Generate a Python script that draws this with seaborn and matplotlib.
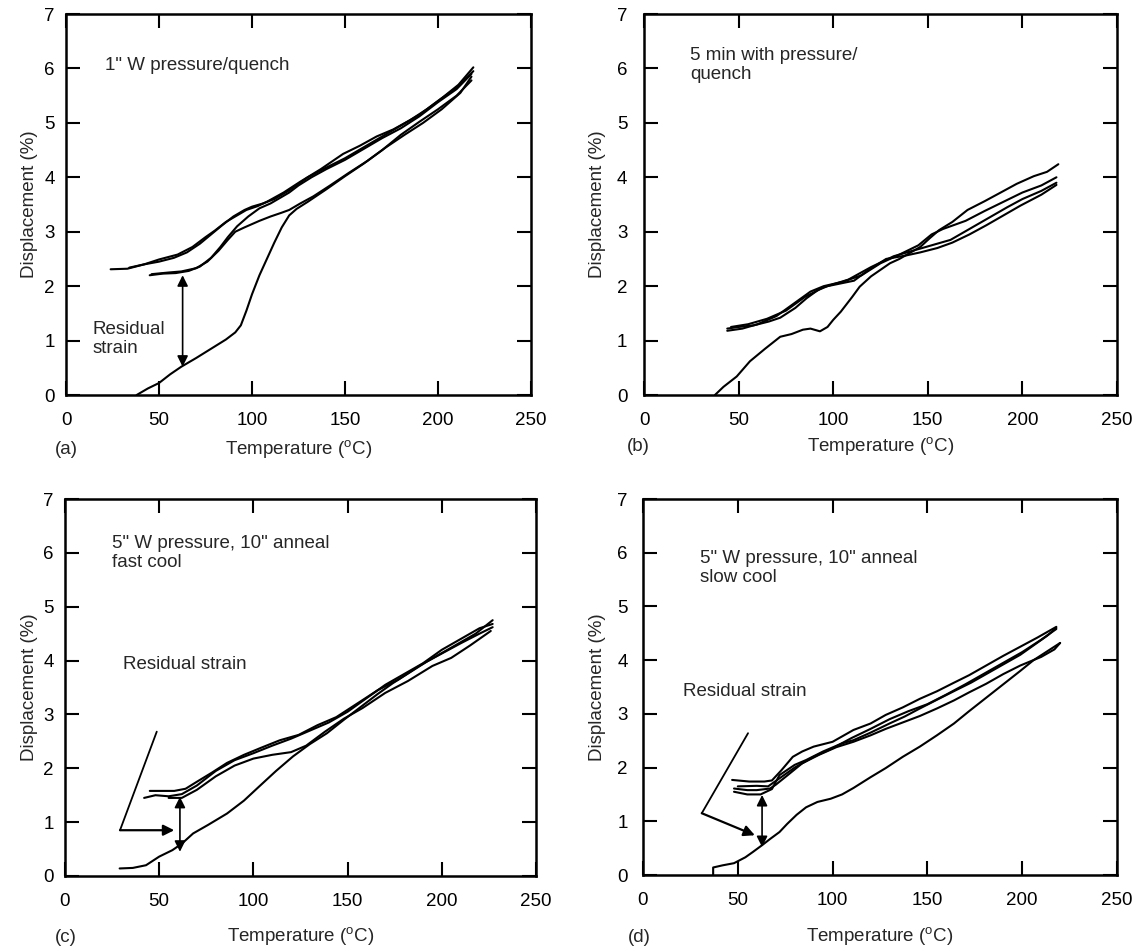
import numpy as np
import pandas as pd
import matplotlib.pyplot as plt
import seaborn as sns

# ---- panel (a): 1" W pressure/quench ----
A_HEAT_T = [38, 44, 50, 56, 62, 70, 78, 86, 91, 94, 97, 100, 104, 108, 112, 116, 120, 124, 130,
            140, 150, 160, 170, 180, 190, 200, 210, 218]
A_HEAT_D = [0.0, 0.12, 0.22, 0.38, 0.52, 0.68, 0.85, 1.02, 1.15, 1.28, 1.55, 1.85, 2.2, 2.5, 2.8,
            3.08, 3.3, 3.42, 3.55, 3.78, 4.02, 4.25, 4.5, 4.78, 5.02, 5.25, 5.5, 5.78]
A_TOP_T = [24, 33, 42, 50, 60, 68, 75, 80, 86, 92, 97, 103, 108, 117, 126, 137, 149, 158, 167,
           176, 185, 194, 203, 211, 219]
A_TOP_D = [2.31, 2.32, 2.4, 2.49, 2.58, 2.72, 2.9, 3.02, 3.18, 3.3, 3.4, 3.47, 3.55, 3.72, 3.92,
           4.15, 4.43, 4.58, 4.75, 4.88, 5.05, 5.25, 5.48, 5.7, 6.02]
A_MID_T = [34, 42, 50, 58, 65, 72, 78, 84, 90, 96, 100, 106, 112, 120, 130, 140, 150, 160, 170,
           180, 190, 200, 210, 219]
A_MID_D = [2.34, 2.4, 2.45, 2.52, 2.62, 2.78, 2.95, 3.12, 3.28, 3.4, 3.46, 3.52, 3.6, 3.76, 4.0,
           4.18, 4.35, 4.55, 4.75, 4.95, 5.15, 5.4, 5.65, 5.95]
A_LOW_T = [45, 52, 59, 66, 72, 78, 83, 87, 92, 98, 104, 110, 115, 120, 125, 132, 140, 150, 160,
           170, 180, 190, 200, 210, 218]
A_LOW_D = [2.2, 2.23, 2.24, 2.28, 2.36, 2.52, 2.72, 2.9, 3.1, 3.28, 3.43, 3.52, 3.62, 3.72, 3.85,
           4.0, 4.15, 4.32, 4.52, 4.72, 4.9, 5.12, 5.38, 5.62, 5.9]
A_STEP_T = [46, 55, 62, 70, 76, 82, 87, 91, 96, 100, 104, 110, 116, 120, 126, 133, 142, 152,
            162, 172, 182, 192, 202, 212, 218]
A_STEP_D = [2.22, 2.25, 2.27, 2.33, 2.45, 2.65, 2.85, 3.0, 3.08, 3.14, 3.2, 3.28, 3.35, 3.4,
            3.52, 3.65, 3.85, 4.08, 4.3, 4.55, 4.78, 5.0, 5.25, 5.55, 5.85]

# ---- panel (b): 5 min with pressure/quench ----
B_HEAT_T = [37.5, 42, 49, 56, 64, 72, 78, 84, 88, 93, 97, 100, 104, 110, 114, 120, 125, 130,
            135, 146, 151, 156, 163, 171, 180, 188, 197, 206, 213, 219]
B_HEAT_D = [0.0, 0.15, 0.34, 0.62, 0.85, 1.07, 1.12, 1.2, 1.22, 1.17, 1.25, 1.38, 1.53, 1.8,
            1.99, 2.18, 2.3, 2.42, 2.5, 2.72, 2.88, 3.03, 3.18, 3.4, 3.56, 3.71, 3.88, 4.02,
            4.1, 4.24]
B_C1_T = [44, 50, 58, 66, 72, 80, 86, 92, 97, 104, 111, 118, 128, 138, 146, 155, 163, 172, 181,
          190, 199, 210, 218]
B_C1_D = [1.22, 1.25, 1.28, 1.35, 1.42, 1.6, 1.78, 1.93, 2.0, 2.05, 2.1, 2.28, 2.5, 2.56, 2.62,
          2.7, 2.8, 2.95, 3.12, 3.3, 3.48, 3.68, 3.86]
B_C2_T = [44, 52, 60, 70, 80, 88, 95, 105, 115, 125, 135, 145, 152, 158, 170, 180, 190, 200,
          210, 218]
B_C2_D = [1.18, 1.22, 1.3, 1.45, 1.7, 1.9, 2.0, 2.08, 2.2, 2.42, 2.58, 2.75, 2.95, 3.05, 3.2,
          3.38, 3.55, 3.72, 3.85, 4.0]
B_C3_T = [46, 55, 65, 75, 85, 95, 108, 120, 132, 142, 152, 162, 172, 182, 192, 200, 210, 218]
B_C3_D = [1.25, 1.3, 1.4, 1.55, 1.8, 1.98, 2.12, 2.35, 2.55, 2.65, 2.75, 2.85, 3.05, 3.25, 3.45,
          3.6, 3.75, 3.9]

# ---- panel (c): 5" W pressure, 10" anneal, fast cool ----
C_HEAT_T = [29, 36, 43, 50, 57, 62, 68, 76, 86, 95, 103, 112, 121, 130, 139, 148, 157, 166,
            174, 183, 192, 201, 210, 220, 227]
C_HEAT_D = [0.14, 0.15, 0.2, 0.36, 0.48, 0.6, 0.79, 0.95, 1.16, 1.4, 1.66, 1.95, 2.22, 2.45,
            2.65, 2.9, 3.14, 3.38, 3.58, 3.78, 3.98, 4.15, 4.32, 4.5, 4.62]
C_C1_T = [45, 52, 58, 64, 70, 78, 86, 95, 104, 114, 124, 134, 144, 155, 166, 177, 188, 198,
          208, 218, 227]
C_C1_D = [1.58, 1.58, 1.58, 1.62, 1.75, 1.92, 2.1, 2.25, 2.38, 2.52, 2.62, 2.8, 2.95, 3.2,
          3.45, 3.65, 3.9, 4.1, 4.3, 4.5, 4.75]
C_C2_T = [42, 48, 55, 62, 70, 80, 90, 100, 110, 120, 130, 140, 150, 160, 170, 180, 190, 200,
          210, 220, 227]
C_C2_D = [1.45, 1.5, 1.48, 1.52, 1.68, 1.95, 2.15, 2.28, 2.42, 2.55, 2.7, 2.85, 3.05, 3.3,
          3.55, 3.75, 3.95, 4.2, 4.4, 4.6, 4.68]
C_C3_T = [55, 62, 70, 80, 90, 100, 110, 120, 128, 138, 148, 158, 170, 182, 195, 205, 215, 226]
C_C3_D = [1.45, 1.45, 1.6, 1.85, 2.05, 2.18, 2.25, 2.3, 2.42, 2.68, 2.92, 3.12, 3.4, 3.62,
          3.9, 4.05, 4.28, 4.55]

# ---- panel (d): 5" W pressure, 10" anneal, slow cool ----
D_HEAT_T = [37, 37, 42, 48, 54, 58, 63, 67, 72, 76, 81, 86, 92, 99, 105, 111, 120, 128, 137,
            146, 155, 164, 172, 181, 190, 199, 206, 213, 220]
D_HEAT_D = [0.0, 0.14, 0.18, 0.22, 0.33, 0.43, 0.56, 0.67, 0.8, 0.95, 1.12, 1.26, 1.36, 1.42,
            1.5, 1.62, 1.82, 1.99, 2.2, 2.39, 2.6, 2.82, 3.05, 3.3, 3.55, 3.8, 4.0, 4.16, 4.32]
D_BACK_T = [220, 217, 210, 199, 190, 181, 172, 164, 155, 146, 137, 128, 120, 111, 102, 93, 84,
            76, 70, 67, 60, 55, 48]
D_BACK_D = [4.32, 4.2, 4.06, 3.9, 3.74, 3.56, 3.4, 3.25, 3.1, 2.96, 2.84, 2.72, 2.6, 2.48,
            2.38, 2.24, 2.08, 1.85, 1.68, 1.61, 1.58, 1.58, 1.61]
D_TOP_T = [47, 56, 64, 68, 73, 79, 84, 90, 100, 111, 120, 128, 137, 146, 155, 164, 172, 181,
           190, 199, 208, 218]
D_TOP_D = [1.77, 1.74, 1.74, 1.76, 1.95, 2.2, 2.3, 2.39, 2.48, 2.7, 2.82, 2.98, 3.12, 3.28,
           3.42, 3.58, 3.72, 3.9, 4.08, 4.25, 4.42, 4.62]
D_MID_T = [48, 55, 62, 68, 72, 80, 86, 95, 105, 111, 120, 130, 138, 146, 156, 165, 173, 181,
           190, 199, 207, 213, 218]
D_MID_D = [1.55, 1.5, 1.5, 1.6, 1.86, 2.05, 2.14, 2.3, 2.45, 2.51, 2.65, 2.82, 2.95, 3.1,
           3.28, 3.44, 3.58, 3.74, 3.92, 4.1, 4.3, 4.45, 4.6]
D_MID2_T = [50, 60, 66, 72, 80, 90, 100, 110, 120, 130, 140, 150, 160, 170, 180, 190, 200,
            210, 218]
D_MID2_D = [1.65, 1.66, 1.65, 1.8, 2.0, 2.2, 2.36, 2.55, 2.72, 2.9, 3.05, 3.18, 3.36, 3.55,
            3.75, 3.95, 4.15, 4.38, 4.58]

PANELS = [
    ("(a)", [(A_HEAT_T, A_HEAT_D), (A_TOP_T, A_TOP_D), (A_MID_T, A_MID_D),
             (A_LOW_T, A_LOW_D), (A_STEP_T, A_STEP_D)]),
    ("(b)", [(B_HEAT_T, B_HEAT_D), (B_C1_T, B_C1_D), (B_C2_T, B_C2_D), (B_C3_T, B_C3_D)]),
    ("(c)", [(C_HEAT_T, C_HEAT_D), (C_C1_T, C_C1_D), (C_C2_T, C_C2_D), (C_C3_T, C_C3_D)]),
    ("(d)", [(D_HEAT_T, D_HEAT_D), (D_BACK_T, D_BACK_D), (D_TOP_T, D_TOP_D),
             (D_MID_T, D_MID_D), (D_MID2_T, D_MID2_D)]),
]

W, H = 1140, 951
# axes boxes in pixels: left, right, top, bottom
BOXES = [(66, 531, 14, 395), (644, 1117, 14, 395), (65, 536, 499, 876), (643, 1117, 499, 875)]
YPAD = [8, 12, 8, 11]
YLAB_X = [30, 597, 30, 597]
XLAB_Y = [450, 447, 937, 937]
TAG_X = [66, 638, 66, 639]

sns.set_theme(style="ticks")
plt.rcParams['font.family'] = ['Liberation Sans', 'DejaVu Sans']
plt.rcParams['mathtext.fontset'] = 'custom'
plt.rcParams['mathtext.rm'] = 'Liberation Sans'

fig = plt.figure(figsize=(W / 100, H / 100), dpi=100)
FS = 13.5

axes = []
for i, (tag, curves) in enumerate(PANELS):
    l, r, t, b = BOXES[i]
    ax = fig.add_axes([l / W, 1 - b / H, (r - l) / W, (b - t) / H])
    rows = []
    for k, (xs, ys) in enumerate(curves):
        for x, y in zip(xs, ys):
            rows.append({"T": x, "D": y, "run": k})
    df = pd.DataFrame(rows)
    sns.lineplot(data=df, x="T", y="D", units="run", estimator=None, sort=False,
                 color="black", lw=1.5, ax=ax, legend=False)
    ax.set_xlim(0, 250)
    ax.set_ylim(0, 7)
    ax.set_xticks(range(0, 251, 50))
    ax.set_yticks(range(0, 8))
    ax.tick_params(direction="in", length=10, width=1.5, top=True, right=True,
                   labelsize=FS, colors="black")
    ax.tick_params(axis="x", pad=12)
    ax.tick_params(axis="y", pad=YPAD[i])
    for s in ax.spines.values():
        s.set_linewidth(1.8)
        s.set_color("black")
    ax.set_xlabel("")
    ax.set_ylabel("")
    fig.text(YLAB_X[i] / W, 1 - (t + b) / 2 / H, "Displacement (%)", rotation=90,
             ha="center", va="center", fontsize=FS)
    fig.text((l + r) / 2 / W, 1 - XLAB_Y[i] / H, r"Temperature ($^{\mathrm{o}}$C)",
             ha="center", va="center", fontsize=FS)
    fig.text(TAG_X[i] / W, 1 - XLAB_Y[i] / H, tag, ha="center", va="center", fontsize=FS)
    axes.append(ax)

arrow2 = dict(arrowstyle="<|-|>", color="black", lw=1.2, mutation_scale=16,
              shrinkA=0, shrinkB=0)
arrow1 = dict(arrowstyle="-|>", color="black", lw=1.6, mutation_scale=16,
              shrinkA=0, shrinkB=0)

ax = axes[0]
ax.text(21, 6.06, '1" W pressure/quench', fontsize=FS, va="center")
ax.text(14, 1.03, "Residual\nstrain", fontsize=FS, va="center", linespacing=1.2)
ax.annotate("", xy=(62.7, 0.52), xytext=(62.7, 2.2), arrowprops=arrow2)

ax = axes[1]
ax.text(24.3, 6.07, "5 min with pressure/\nquench", fontsize=FS, va="center",
        linespacing=1.15)

ax = axes[2]
ax.text(25, 5.99, '5" W pressure, 10" anneal\nfast cool', fontsize=FS, va="center",
        linespacing=1.15)
ax.text(30.8, 3.92, "Residual strain", fontsize=FS, va="center")
ax.plot([48.7, 29.2], [2.68, 0.85], color="black", lw=1.3)
ax.annotate("", xy=(58, 0.85), xytext=(29.2, 0.85), arrowprops=arrow1)
ax.annotate("", xy=(61, 0.45), xytext=(61, 1.47), arrowprops=arrow2)

ax = axes[3]
ax.text(30, 5.72, '5" W pressure, 10" anneal\nslow cool', fontsize=FS, va="center",
        linespacing=1.15)
ax.text(21, 3.41, "Residual strain", fontsize=FS, va="center")
ax.plot([55.4, 31], [2.64, 1.15], color="black", lw=1.3)
ax.annotate("", xy=(59, 0.74), xytext=(31, 1.15), arrowprops=arrow1)
ax.annotate("", xy=(62.8, 0.52), xytext=(62.8, 1.49), arrowprops=arrow2)

fig.savefig("out.png", dpi=100)
